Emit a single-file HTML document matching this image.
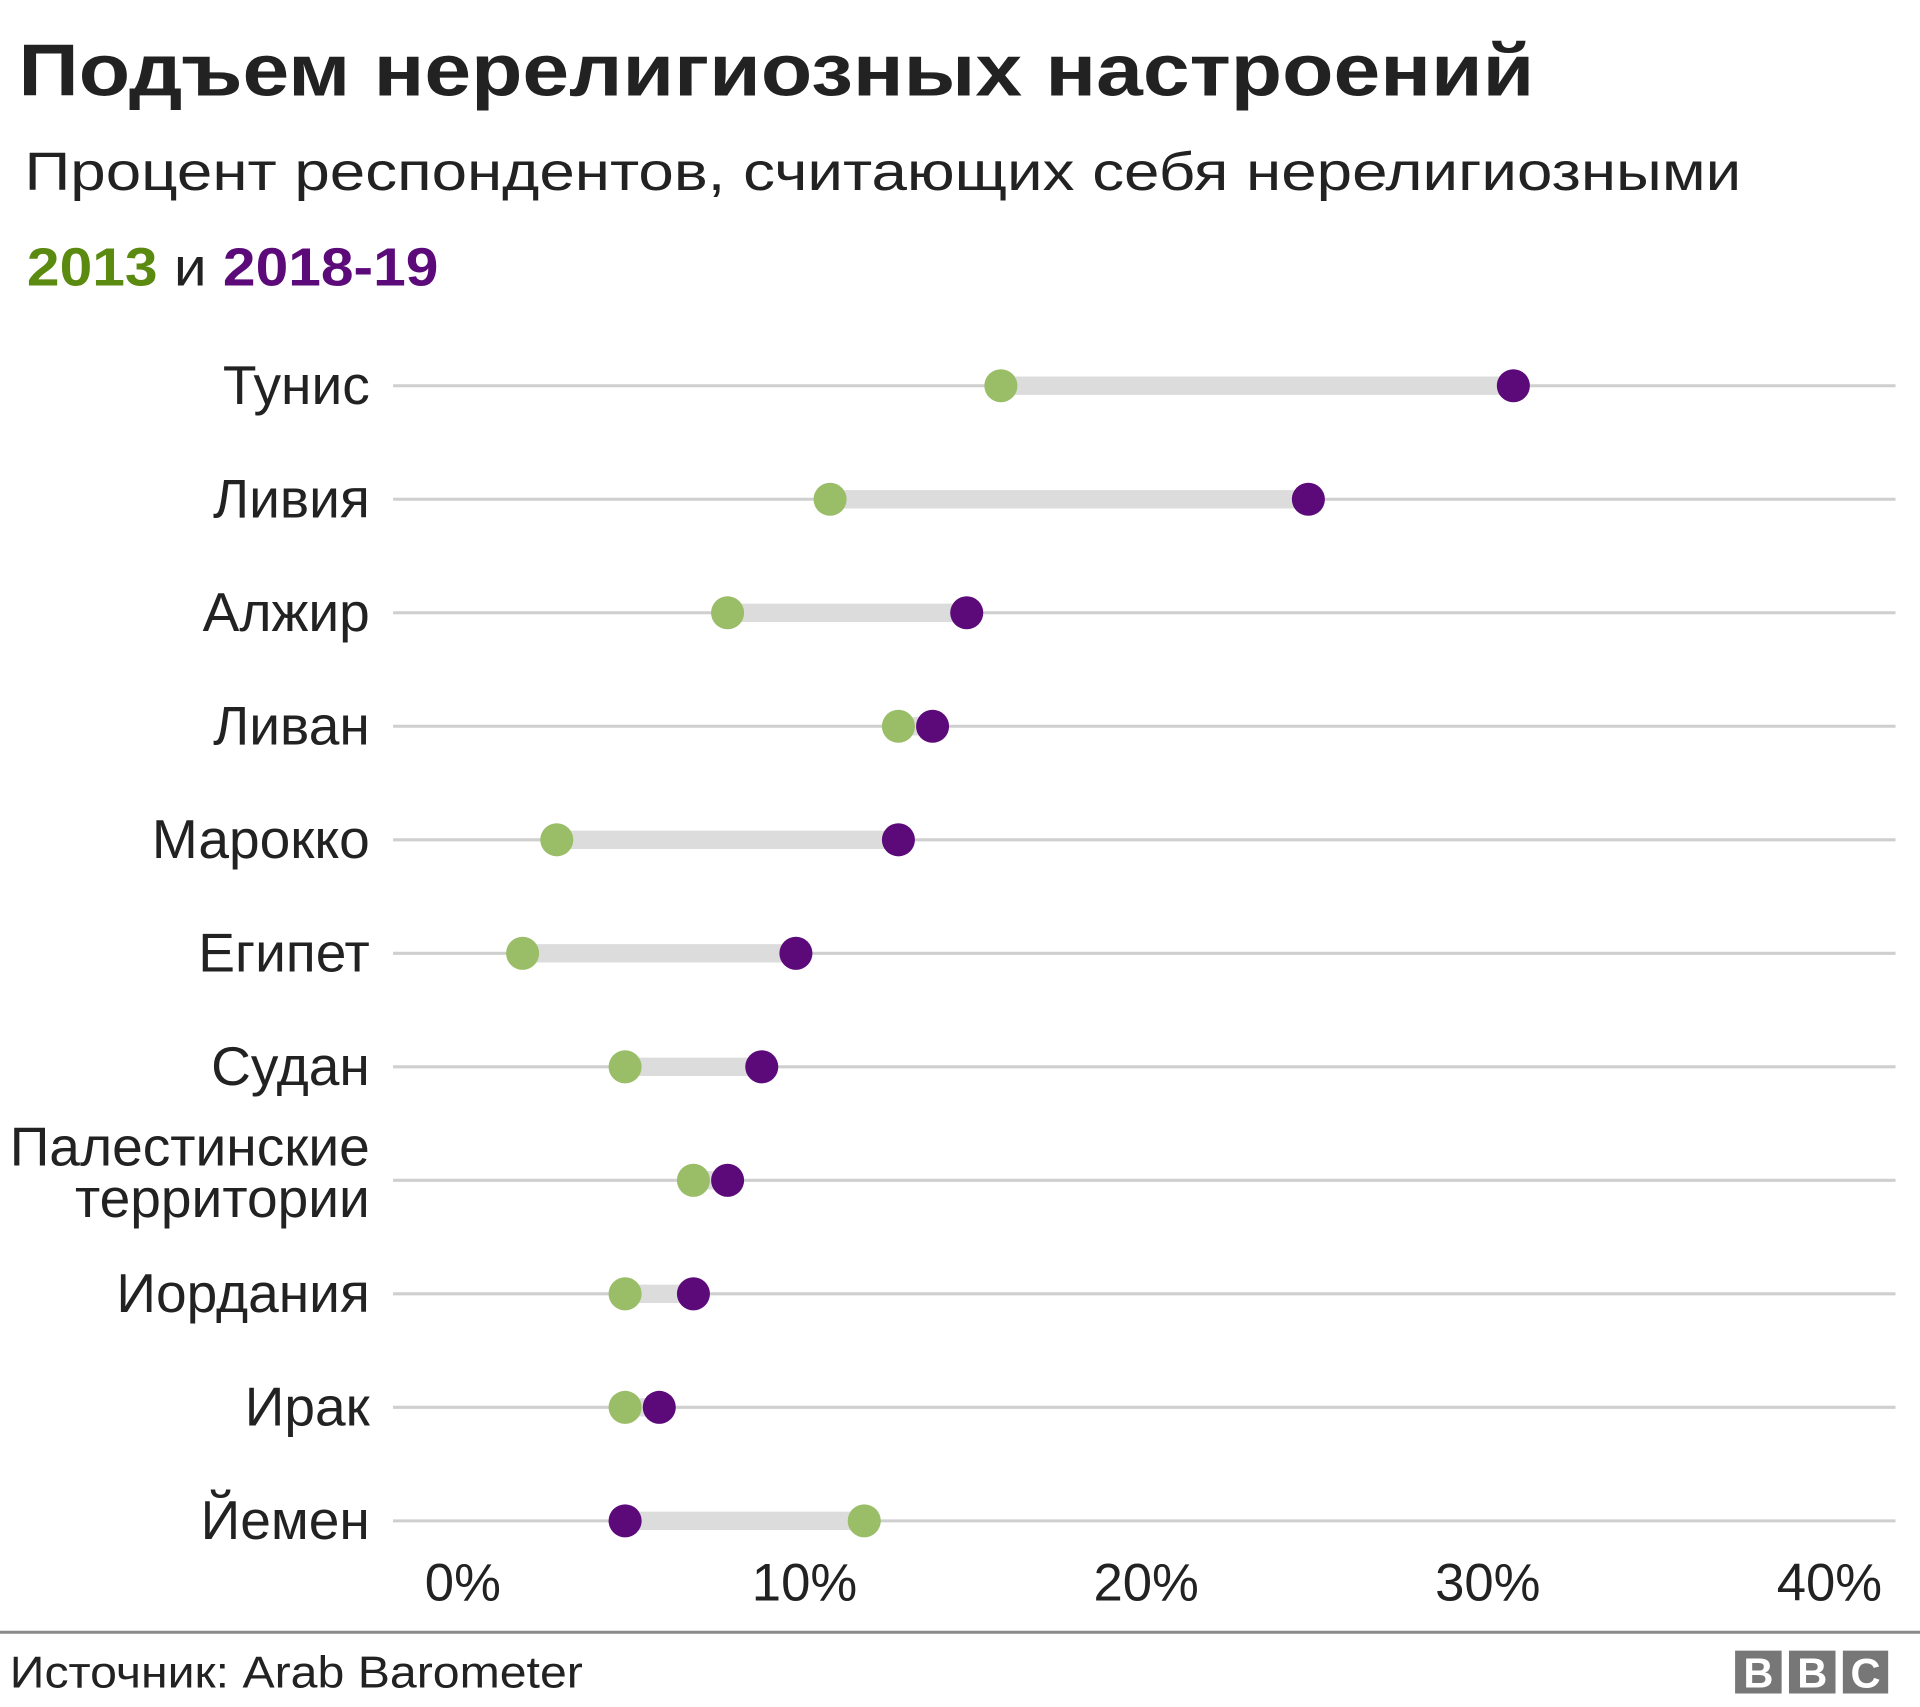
<!DOCTYPE html>
<html><head><meta charset="utf-8"><style>
html,body{margin:0;padding:0;background:#fff;}
svg{display:block;font-family:"Liberation Sans","Noto Sans CJK SC",sans-serif;}
</style></head><body>
<svg id="chart" width="1920" height="1707" viewBox="0 0 1568 1394" xmlns="http://www.w3.org/2000/svg">
<text x="15" y="78" font-size="60" font-weight="bold" fill="#222" textLength="1238" lengthAdjust="spacingAndGlyphs">Подъем нерелигиозных настроений</text>
<text x="20" y="155" font-size="44" fill="#222" textLength="1402" lengthAdjust="spacingAndGlyphs">Процент респондентов, считающих себя нерелигиозными</text>
<text x="22" y="233" font-size="44" fill="#222" textLength="336" lengthAdjust="spacingAndGlyphs"><tspan font-weight="bold" fill="#5a8a10">2013</tspan> и <tspan font-weight="bold" fill="#5c0a7a">2018-19</tspan></text>
<g id="plot"></g>
<line x1="0" x2="1568" y1="1333" y2="1333" stroke="#8a8a8a" stroke-width="2.5"/>
<text x="8" y="1378" font-size="36" fill="#222" textLength="468" lengthAdjust="spacingAndGlyphs">Источник: Arab Barometer</text>
<g>
<rect x="1417" y="1348" width="38" height="35" fill="#777"/><rect x="1461" y="1348" width="38" height="35" fill="#777"/><rect x="1505" y="1348" width="37" height="35" fill="#777"/>
<text x="1436" y="1378" font-size="34" font-weight="bold" fill="#fff" text-anchor="middle">B</text>
<text x="1480" y="1378" font-size="34" font-weight="bold" fill="#fff" text-anchor="middle">B</text>
<text x="1523.5" y="1378" font-size="34" font-weight="bold" fill="#fff" text-anchor="middle">C</text>
</g>
</svg>
<script>
const countries = ["Тунис","Ливия","Алжир","Ливан","Марокко","Египет","Судан","Палестинские территории","Иордания","Ирак","Йемен"];
const values2013 = [16,11,8,13,3,2,5,7,5,5,12];
const values2019 = [31,25,15,14,13,10,9,8,7,6,5];
const tickValues = [0,10,20,30,40];
const tickLabels = ["0%","10%","20%","30%","40%"];

const NS="http://www.w3.org/2000/svg";
const g=document.getElementById('plot');
function xS(v){return 371+v*27.9;}
function yS(i){return 315+i*92.7;}
function mk(tag,attrs){const e=document.createElementNS(NS,tag);for(const k in attrs)e.setAttribute(k,attrs[k]);g.appendChild(e);return e;}

countries.forEach((c,i)=>{
  const y=yS(i);
  const gl=mk('line',{x1:321,x2:1548,y1:y,y2:y,stroke:'#cfcfcf','stroke-width':2.5});
  
  
  const a=values2013[i],b=values2019[i];
  const bar=mk('line',{x1:xS(Math.min(a,b)),x2:xS(Math.max(a,b)),y1:y,y2:y,stroke:'#dcdcdc','stroke-width':15});
  
  
  const d1=mk('circle',{cx:xS(a),cy:y,r:13.5,fill:'#9abd67'});
  
  
  const d2=mk('circle',{cx:xS(b),cy:y,r:13.5,fill:'#5c0a7a'});
  
  
  const parts=c.split(' ');
  if(parts.length>1){
    parts.forEach((p,j)=>{
      const t=mk('text',{x:302,y:y-12+j*42,'font-size':45,fill:'#222','text-anchor':'end'});
      t.textContent=p;
      
      
    });
  } else {
    const t=mk('text',{x:302,y:y+15,'font-size':45,fill:'#222','text-anchor':'end'});
    t.textContent=c;
    
    
  }
});
tickValues.forEach((v,i)=>{
  const t=mk('text',{x:xS(v)+7,y:1307,'font-size':43,fill:'#222','text-anchor':'middle'});
  t.textContent=tickLabels[i];
  
  
});
</script>
</body></html>
